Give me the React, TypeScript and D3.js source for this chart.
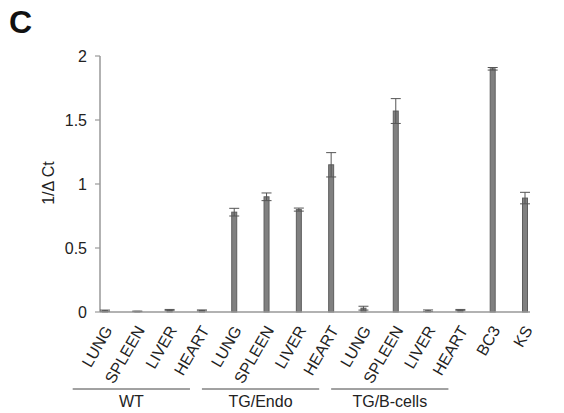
import React from "react";
import * as d3 from "d3";

const categories = [
  "LUNG", "SPLEEN", "LIVER", "HEART",
  "LUNG", "SPLEEN", "LIVER", "HEART",
  "LUNG", "SPLEEN", "LIVER", "HEART",
  "BC3", "KS",
];
const values = [
  0.01, 0.005, 0.015, 0.012,
  0.78, 0.9, 0.8, 1.15,
  0.03, 1.57, 0.01, 0.015,
  1.9, 0.89,
];
const errors = [
  0.005, 0.002, 0.005, 0.004,
  0.03, 0.03, 0.012, 0.095,
  0.015, 0.097, 0.006, 0.005,
  0.01, 0.045,
];
const groups = [
  { label: "WT", from: 0, to: 3 },
  { label: "TG/Endo", from: 4, to: 7 },
  { label: "TG/B-cells", from: 8, to: 11 },
];
const yTicks = [0, 0.5, 1, 1.5, 2];

const W = 564;
const H = 413;
const FONT = "'Liberation Sans', Arial, Helvetica, sans-serif";

export default function App() {
  const idx = categories.map((_, i) => i);
  const x = d3.scalePoint<number>().domain(idx).range([105, 525]);
  const step = x.step();
  const y = d3.scaleLinear().domain([0, 2]).range([312, 56]);
  const axisX0 = 100;
  const axisX1 = 530;
  const barW = 5;

  return (
    <svg
      width={W}
      height={H}
      style={{ position: "absolute", left: 0, top: 0, background: "#fff" }}
      fontFamily={FONT}
    >
      <text x={9} y={33} fontSize={32} fontWeight="bold" fill="#111">C</text>

      {/* y label */}
      <text
        transform={`translate(54,183) rotate(-90)`}
        textAnchor="middle"
        fontSize={16}
        fill="#222"
      >
        1/Δ Ct
      </text>

      {/* y axis */}
      <line x1={axisX0} x2={axisX0} y1={y(2)} y2={y(0)} stroke="#999" strokeWidth={1.5} />
      {yTicks.map((t) => (
        <g key={t}>
          <line x1={axisX0 - 5} x2={axisX0} y1={y(t)} y2={y(t)} stroke="#999" strokeWidth={1.2} />
          <text x={87} y={y(t)} dy="0.36em" textAnchor="end" fontSize={16} fill="#222">
            {String(t)}
          </text>
        </g>
      ))}

      {/* bars */}
      {idx.map((i) => {
        const cx = x(i)!;
        const v = values[i];
        const e = errors[i];
        return (
          <g key={i}>
            <rect
              x={cx - barW / 2}
              y={y(v)}
              width={barW}
              height={y(0) - y(v)}
              fill="#808080"
              stroke="#5e5e5e"
              strokeWidth={1}
            />
            <line x1={cx} x2={cx} y1={y(v + e)} y2={y(Math.max(0, v - e))} stroke="#555" strokeWidth={1} />
            <line x1={cx - 5} x2={cx + 5} y1={y(v + e)} y2={y(v + e)} stroke="#555" strokeWidth={1} />
            <line x1={cx - 5} x2={cx + 5} y1={y(Math.max(0, v - e))} y2={y(Math.max(0, v - e))} stroke="#555" strokeWidth={1} />
          </g>
        );
      })}

      {/* x axis */}
      <line x1={axisX0} x2={axisX1} y1={y(0)} y2={y(0)} stroke="#999" strokeWidth={1.5} />

      {/* x labels */}
      {idx.map((i) => (
        <text
          key={i}
          transform={`translate(${x(i)! + 8},330) rotate(-60)`}
          textAnchor="end"
          fontSize={16}
          fill="#222"
        >
          {categories[i]}
        </text>
      ))}

      {/* groups */}
      {groups.map((g) => {
        const x0 = x(g.from)! - step;
        const x1 = x(g.to)! - step * 0.37;
        return (
          <g key={g.label}>
            <line x1={x0} x2={x1} y1={389} y2={389} stroke="#444" strokeWidth={1} />
            <text x={(x0 + x1) / 2} y={407} textAnchor="middle" fontSize={16} fill="#222">
              {g.label}
            </text>
          </g>
        );
      })}
    </svg>
  );
}
